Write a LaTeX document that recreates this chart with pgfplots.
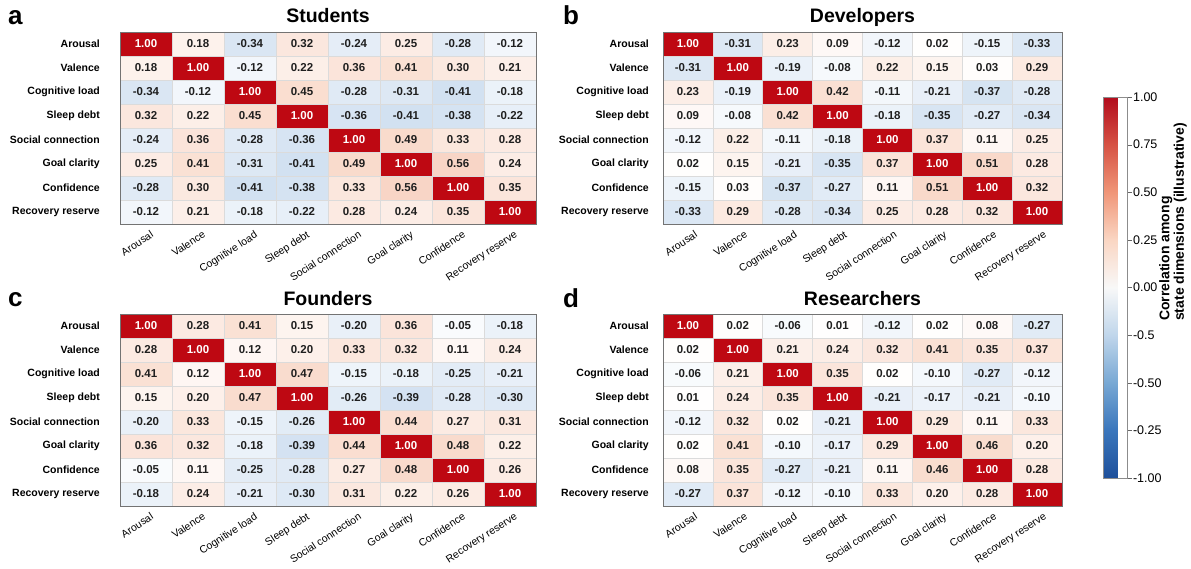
\documentclass[border=0pt]{standalone}
\usepackage{fontspec}
\setmainfont{Liberation Sans}
\usepackage{pgfplots}
\usepackage{pgfplotstable}
\pgfplotsset{compat=1.18}

% cell colours are paler than the colour bar, as in the figure
\pgfplotsset{
  colormap={cells}{rgb255(0cm)=(140,180,218) rgb255(5cm)=(200,218,238) rgb255(10cm)=(255,255,255)
    rgb255(15cm)=(249,218,203) rgb255(16cm)=(247,210,194) rgb255(18cm)=(225,110,95) rgb255(20cm)=(190,8,18)},
  colormap={cbar}{rgb255(0cm)=(30,80,155) rgb255(2.5cm)=(58,118,188) rgb255(5cm)=(120,168,212)
    rgb255(7.5cm)=(192,214,235) rgb255(10cm)=(248,248,248) rgb255(12.5cm)=(250,214,195)
    rgb255(15cm)=(240,150,120) rgb255(17.5cm)=(214,82,68) rgb255(20cm)=(178,12,28)},
  % #1 shift of the column labels, #2 gap of the row labels
  hm/.style n args={2}{
    scale only axis, y dir=reverse,
    xmin=-0.5, xmax=7.5, ymin=-0.5, ymax=7.5,
    xtick={0,...,7}, ytick={0,...,7},
    xticklabels={Arousal,Valence,Cognitive load,Sleep debt,Social connection,Goal clarity,Confidence,Recovery reserve},
    yticklabels={Arousal,Valence,Cognitive load,Sleep debt,Social connection,Goal clarity,Confidence,Recovery reserve},
    major tick length=0pt, minor tick length=0pt,
    minor xtick={0.5,1.5,...,6.5}, minor ytick={0.5,1.5,...,6.5},
    xminorgrids, yminorgrids,
    minor grid style={black!14, line width=0.6pt},
    axis on top,
    axis line style={black!55, line width=0.8pt},
    colormap name=cells, point meta min=-1, point meta max=1,
    xticklabel style={font=\fontsize{10.5}{12}\selectfont, xshift=#1, yshift=-6pt,
      rotate=33, anchor=north east, inner sep=0pt},
    yticklabel style={font=\bfseries\fontsize{10.5}{12}\selectfont, anchor=east, inner sep=0pt, xshift=-#2},
    title style={font=\bfseries\fontsize{19.5}{21}\selectfont, at={(0.5,1)}, anchor=base, yshift=3pt},
  },
  txt/.style={draw=none, mark=none, point meta=explicit symbolic,
    nodes near coords={\pgfplotspointmeta},
    restrict expr to domain={\thisrow{c}}{-1:0.9},
    every node near coord/.append style={anchor=center, inner sep=0pt,
      font=\bfseries\fontsize{11.5}{13}\selectfont, text=black!88}},
  txtdiag/.style={draw=none, mark=none, point meta=explicit symbolic,
    nodes near coords={\pgfplotspointmeta},
    restrict expr to domain={\thisrow{c}}{0.9:1.1},
    every node near coord/.append style={anchor=center, inner sep=0pt,
      font=\bfseries\fontsize{11.5}{13}\selectfont, text=white}},
}

\pgfplotstableread{
x y c
0 0 1.00
1 0 0.18
2 0 -0.34
3 0 0.32
4 0 -0.24
5 0 0.25
6 0 -0.28
7 0 -0.12
0 1 0.18
1 1 1.00
2 1 -0.12
3 1 0.22
4 1 0.36
5 1 0.41
6 1 0.30
7 1 0.21
0 2 -0.34
1 2 -0.12
2 2 1.00
3 2 0.45
4 2 -0.28
5 2 -0.31
6 2 -0.41
7 2 -0.18
0 3 0.32
1 3 0.22
2 3 0.45
3 3 1.00
4 3 -0.36
5 3 -0.41
6 3 -0.38
7 3 -0.22
0 4 -0.24
1 4 0.36
2 4 -0.28
3 4 -0.36
4 4 1.00
5 4 0.49
6 4 0.33
7 4 0.28
0 5 0.25
1 5 0.41
2 5 -0.31
3 5 -0.41
4 5 0.49
5 5 1.00
6 5 0.56
7 5 0.24
0 6 -0.28
1 6 0.30
2 6 -0.41
3 6 -0.38
4 6 0.33
5 6 0.56
6 6 1.00
7 6 0.35
0 7 -0.12
1 7 0.21
2 7 -0.18
3 7 -0.22
4 7 0.28
5 7 0.24
6 7 0.35
7 7 1.00
}\students

\pgfplotstableread{
x y c
0 0 1.00
1 0 -0.31
2 0 0.23
3 0 0.09
4 0 -0.12
5 0 0.02
6 0 -0.15
7 0 -0.33
0 1 -0.31
1 1 1.00
2 1 -0.19
3 1 -0.08
4 1 0.22
5 1 0.15
6 1 0.03
7 1 0.29
0 2 0.23
1 2 -0.19
2 2 1.00
3 2 0.42
4 2 -0.11
5 2 -0.21
6 2 -0.37
7 2 -0.28
0 3 0.09
1 3 -0.08
2 3 0.42
3 3 1.00
4 3 -0.18
5 3 -0.35
6 3 -0.27
7 3 -0.34
0 4 -0.12
1 4 0.22
2 4 -0.11
3 4 -0.18
4 4 1.00
5 4 0.37
6 4 0.11
7 4 0.25
0 5 0.02
1 5 0.15
2 5 -0.21
3 5 -0.35
4 5 0.37
5 5 1.00
6 5 0.51
7 5 0.28
0 6 -0.15
1 6 0.03
2 6 -0.37
3 6 -0.27
4 6 0.11
5 6 0.51
6 6 1.00
7 6 0.32
0 7 -0.33
1 7 0.29
2 7 -0.28
3 7 -0.34
4 7 0.25
5 7 0.28
6 7 0.32
7 7 1.00
}\developers

\pgfplotstableread{
x y c
0 0 1.00
1 0 0.28
2 0 0.41
3 0 0.15
4 0 -0.20
5 0 0.36
6 0 -0.05
7 0 -0.18
0 1 0.28
1 1 1.00
2 1 0.12
3 1 0.20
4 1 0.33
5 1 0.32
6 1 0.11
7 1 0.24
0 2 0.41
1 2 0.12
2 2 1.00
3 2 0.47
4 2 -0.15
5 2 -0.18
6 2 -0.25
7 2 -0.21
0 3 0.15
1 3 0.20
2 3 0.47
3 3 1.00
4 3 -0.26
5 3 -0.39
6 3 -0.28
7 3 -0.30
0 4 -0.20
1 4 0.33
2 4 -0.15
3 4 -0.26
4 4 1.00
5 4 0.44
6 4 0.27
7 4 0.31
0 5 0.36
1 5 0.32
2 5 -0.18
3 5 -0.39
4 5 0.44
5 5 1.00
6 5 0.48
7 5 0.22
0 6 -0.05
1 6 0.11
2 6 -0.25
3 6 -0.28
4 6 0.27
5 6 0.48
6 6 1.00
7 6 0.26
0 7 -0.18
1 7 0.24
2 7 -0.21
3 7 -0.30
4 7 0.31
5 7 0.22
6 7 0.26
7 7 1.00
}\founders

\pgfplotstableread{
x y c
0 0 1.00
1 0 0.02
2 0 -0.06
3 0 0.01
4 0 -0.12
5 0 0.02
6 0 0.08
7 0 -0.27
0 1 0.02
1 1 1.00
2 1 0.21
3 1 0.24
4 1 0.32
5 1 0.41
6 1 0.35
7 1 0.37
0 2 -0.06
1 2 0.21
2 2 1.00
3 2 0.35
4 2 0.02
5 2 -0.10
6 2 -0.27
7 2 -0.12
0 3 0.01
1 3 0.24
2 3 0.35
3 3 1.00
4 3 -0.21
5 3 -0.17
6 3 -0.21
7 3 -0.10
0 4 -0.12
1 4 0.32
2 4 0.02
3 4 -0.21
4 4 1.00
5 4 0.29
6 4 0.11
7 4 0.33
0 5 0.02
1 5 0.41
2 5 -0.10
3 5 -0.17
4 5 0.29
5 5 1.00
6 5 0.46
7 5 0.20
0 6 0.08
1 6 0.35
2 6 -0.27
3 6 -0.21
4 6 0.11
5 6 0.46
6 6 1.00
7 6 0.28
0 7 -0.27
1 7 0.37
2 7 -0.12
3 7 -0.10
4 7 0.33
5 7 0.20
6 7 0.28
7 7 1.00
}\researchers

\begin{document}
\begin{tikzpicture}
\path[use as bounding box] (0,0) rectangle (1191pt,568pt);

% a
\begin{axis}[hm={4pt}{20pt}, at={(120pt,536pt)}, anchor=north west, width=416pt, height=192pt,
  title={Students}]
\addplot[matrix plot*, mesh/cols=8, point meta=explicit] table[meta=c]{\students};
\addplot[txt] table[meta=c]{\students};
\addplot[txtdiag] table[meta=c]{\students};
\end{axis}

% b
\begin{axis}[hm={6pt}{14pt}, at={(663pt,536pt)}, anchor=north west, width=399pt, height=192pt,
  title={Developers}]
\addplot[matrix plot*, mesh/cols=8, point meta=explicit] table[meta=c]{\developers};
\addplot[txt] table[meta=c]{\developers};
\addplot[txtdiag] table[meta=c]{\developers};
\end{axis}

% c
\begin{axis}[hm={4pt}{20pt}, at={(120pt,254pt)}, anchor=north west, width=416pt, height=192pt,
  title={Founders}]
\addplot[matrix plot*, mesh/cols=8, point meta=explicit] table[meta=c]{\founders};
\addplot[txt] table[meta=c]{\founders};
\addplot[txtdiag] table[meta=c]{\founders};
\end{axis}

% d
\begin{axis}[hm={6pt}{14pt}, at={(663pt,254pt)}, anchor=north west, width=399pt, height=192pt,
  title={Researchers}]
\addplot[matrix plot*, mesh/cols=8, point meta=explicit] table[meta=c]{\researchers};
\addplot[txt] table[meta=c]{\researchers};
\addplot[txtdiag] table[meta=c]{\researchers};
\end{axis}

% colour bar (hidden carrier axis)
\begin{axis}[at={(1095pt,90pt)}, anchor=south west, scale only axis, width=24pt, height=381pt,
  hide axis, xmin=0, xmax=1, ymin=-1, ymax=1,
  colormap name=cbar, point meta min=-1, point meta max=1,
  colorbar,
  colorbar style={at={(parent axis.south west)}, anchor=south west,
    scale only axis, width=24pt, height=381pt,
    ytick={-1,-0.75,-0.5,-0.25,0,0.25,0.5,0.75,1},
    yticklabels={-1.00,-0.25,-0.50,-0.5,0.00,0.25,0.50,0.75,1.00},
    yticklabel style={font=\fontsize{12.5}{14}\selectfont, xshift=-2pt},
    ytick pos=right, tick align=outside, major tick length=4pt,
    tick style={black!60}, axis line style={black!45}}]
\end{axis}

\node[rotate=90, anchor=north west, align=left, inner sep=0pt,
  font=\bfseries\fontsize{14}{14.5}\selectfont] at (1159pt,247pt)
  {Correlation among\\state dimensions (illustrative)};

\node[anchor=base west, inner sep=0pt, font=\bfseries\fontsize{26}{28}\selectfont] at (8pt,543pt) {a};
\node[anchor=base west, inner sep=0pt, font=\bfseries\fontsize{26}{28}\selectfont] at (563pt,543pt) {b};
\node[anchor=base west, inner sep=0pt, font=\bfseries\fontsize{26}{28}\selectfont] at (8pt,261pt) {c};
\node[anchor=base west, inner sep=0pt, font=\bfseries\fontsize{26}{28}\selectfont] at (563pt,260pt) {d};
\end{tikzpicture}
\end{document}
